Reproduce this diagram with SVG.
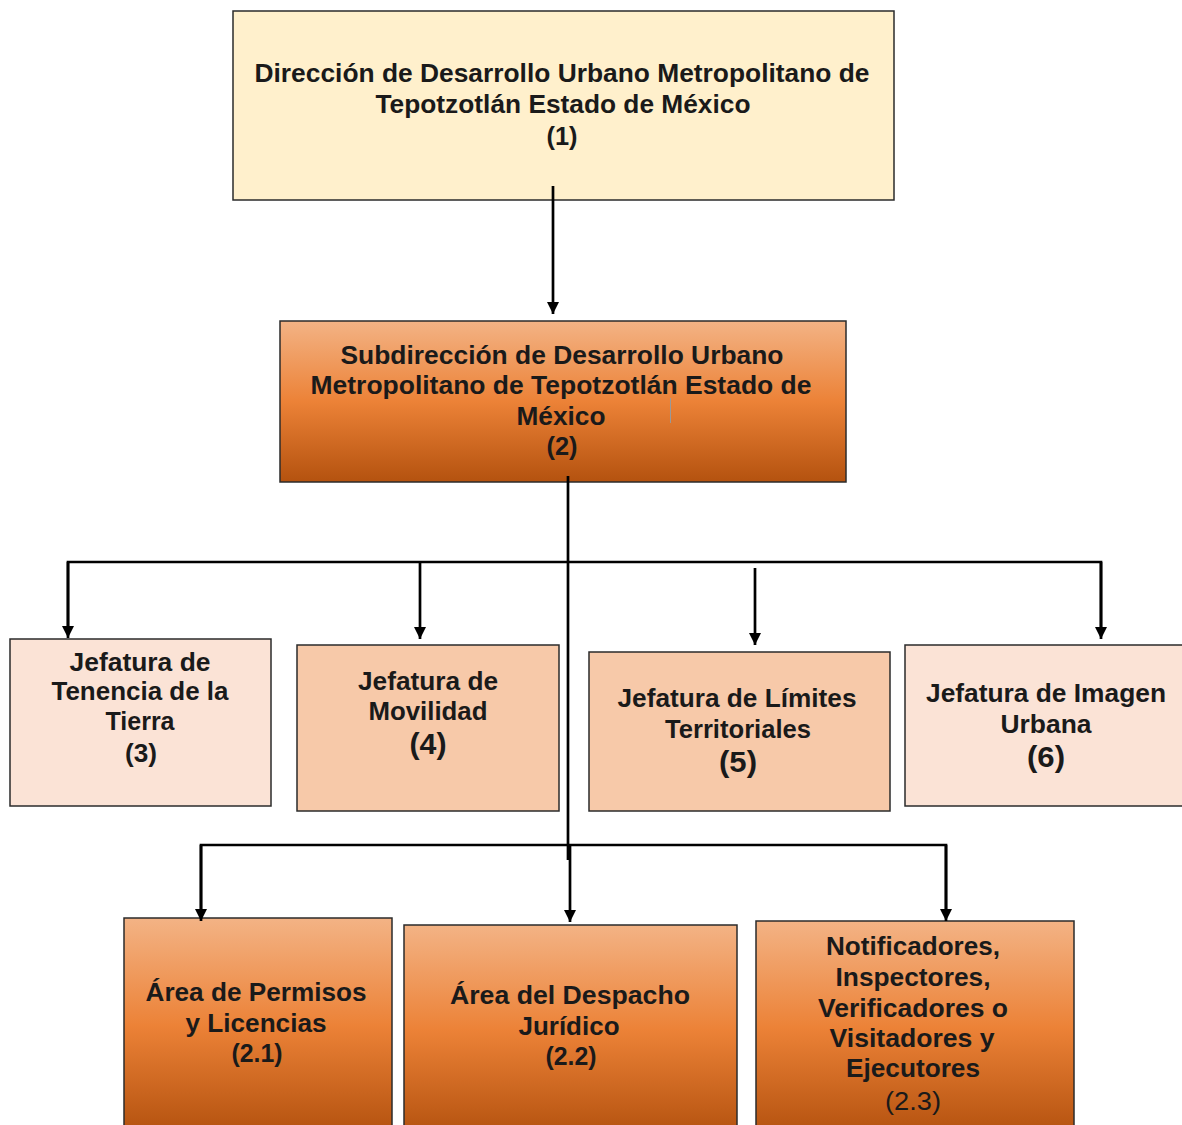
<svg xmlns="http://www.w3.org/2000/svg" width="1182" height="1125" viewBox="0 0 1182 1125">
<defs>
<linearGradient id="og" x1="0" y1="0" x2="0" y2="1">
<stop offset="0" stop-color="#F3B385"/>
<stop offset="0.5" stop-color="#EC8237"/>
<stop offset="1" stop-color="#B4520F"/>
</linearGradient>
<marker id="ah" viewBox="0 0 10 10" refX="10" refY="5" markerWidth="4.6" markerHeight="4.6" orient="auto" markerUnits="strokeWidth">
<path d="M0,0 L10,5 L0,10 z" fill="#000"/>
</marker>
</defs>
<style>
.box{stroke:#2b2b2b;stroke-width:1.5}
.t{font-family:"Liberation Sans",Arial,sans-serif;font-weight:bold;font-size:25px;fill:#1a1a1a;text-anchor:middle}
.n{font-family:"Liberation Sans",Arial,sans-serif;font-weight:bold;font-size:29px;fill:#1a1a1a;text-anchor:middle}
.r{font-family:"Liberation Sans",Arial,sans-serif;font-weight:normal;font-size:26px;fill:#1a1a1a;text-anchor:middle}
.c{stroke:#000;stroke-width:2.7;fill:none}
</style>
<rect width="1182" height="1125" fill="#fff"/>
<g id="n1">
<rect class="box" x="233" y="11" width="661" height="189" fill="#FFF0CC"/>
<text class="t" x="562" y="81.5" textLength="615" lengthAdjust="spacingAndGlyphs">Dirección de Desarrollo Urbano Metropolitano de</text>
<text class="t" x="563" y="112.5" textLength="375" lengthAdjust="spacingAndGlyphs">Tepotzotlán Estado de México</text>
<text class="t" x="562" y="144.5" textLength="31" lengthAdjust="spacingAndGlyphs">(1)</text>
</g>
<g id="n2">
<rect class="box" x="280" y="321" width="566" height="161" fill="url(#og)"/>
<text class="t" x="562" y="363.5" textLength="443" lengthAdjust="spacingAndGlyphs">Subdirección de Desarrollo Urbano</text>
<text class="t" x="561" y="393.5" textLength="501" lengthAdjust="spacingAndGlyphs">Metropolitano de Tepotzotlán Estado de</text>
<text class="t" x="561" y="424.5" textLength="89" lengthAdjust="spacingAndGlyphs">México</text>
<text class="t" x="562" y="454.5" textLength="31" lengthAdjust="spacingAndGlyphs">(2)</text>
<line x1="670.5" y1="398" x2="670.5" y2="423" stroke="#999" stroke-width="1"/>
</g>
<g id="n3">
<rect class="box" x="10" y="639" width="261" height="167" fill="#FBE3D6"/>
<text class="t" x="140" y="671" textLength="141" lengthAdjust="spacingAndGlyphs">Jefatura de</text>
<text class="t" x="140" y="700" textLength="177" lengthAdjust="spacingAndGlyphs">Tenencia de la</text>
<text class="t" x="140" y="729.5" textLength="69" lengthAdjust="spacingAndGlyphs">Tierra</text>
<text class="t" x="141" y="762" textLength="32" lengthAdjust="spacingAndGlyphs">(3)</text>
</g>
<g id="n4">
<rect class="box" x="297" y="645" width="262" height="166" fill="#F7C9A9"/>
<text class="t" x="428" y="689.5" textLength="140" lengthAdjust="spacingAndGlyphs">Jefatura de</text>
<text class="t" x="428" y="719.5" textLength="119" lengthAdjust="spacingAndGlyphs">Movilidad</text>
<text class="n" x="428" y="754" textLength="37" lengthAdjust="spacingAndGlyphs">(4)</text>
</g>
<g id="n5">
<rect class="box" x="589" y="652" width="301" height="159" fill="#F7C9A9"/>
<text class="t" x="737" y="706.5" textLength="239" lengthAdjust="spacingAndGlyphs">Jefatura de Límites</text>
<text class="t" x="738" y="737.5" textLength="146" lengthAdjust="spacingAndGlyphs">Territoriales</text>
<text class="n" x="738" y="772" textLength="38" lengthAdjust="spacingAndGlyphs">(5)</text>
</g>
<g id="n6">
<rect class="box" x="905" y="645" width="290" height="161" fill="#FBE3D6"/>
<text class="t" x="1046" y="701.5" textLength="240" lengthAdjust="spacingAndGlyphs">Jefatura de Imagen</text>
<text class="t" x="1046" y="732.5" textLength="91" lengthAdjust="spacingAndGlyphs">Urbana</text>
<text class="n" x="1046" y="767" textLength="38" lengthAdjust="spacingAndGlyphs">(6)</text>
</g>
<g id="n21">
<rect class="box" x="124" y="918" width="268" height="215" fill="url(#og)"/>
<text class="t" x="256" y="1000.5" textLength="221" lengthAdjust="spacingAndGlyphs">Área de Permisos</text>
<text class="t" x="256" y="1031.5" textLength="141" lengthAdjust="spacingAndGlyphs">y Licencias</text>
<text class="t" x="257" y="1061.5" textLength="51" lengthAdjust="spacingAndGlyphs">(2.1)</text>
</g>
<g id="n22">
<rect class="box" x="404" y="925" width="333" height="210" fill="url(#og)"/>
<text class="t" x="570" y="1003.5" textLength="240" lengthAdjust="spacingAndGlyphs">Área del Despacho</text>
<text class="t" x="569" y="1034.5" textLength="101" lengthAdjust="spacingAndGlyphs">Jurídico</text>
<text class="t" x="571" y="1064.5" textLength="51" lengthAdjust="spacingAndGlyphs">(2.2)</text>
</g>
<g id="n23">
<rect class="box" x="756" y="921" width="318" height="213" fill="url(#og)"/>
<text class="t" x="913" y="955" textLength="174" lengthAdjust="spacingAndGlyphs">Notificadores,</text>
<text class="t" x="913" y="985.5" textLength="155" lengthAdjust="spacingAndGlyphs">Inspectores,</text>
<text class="t" x="913" y="1016.5" textLength="190" lengthAdjust="spacingAndGlyphs">Verificadores o</text>
<text class="t" x="912" y="1046.5" textLength="165" lengthAdjust="spacingAndGlyphs">Visitadores y</text>
<text class="t" x="913" y="1076.5" textLength="134" lengthAdjust="spacingAndGlyphs">Ejecutores</text>
<text class="r" x="913" y="1110" textLength="56" lengthAdjust="spacingAndGlyphs">(2.3)</text>
</g>
<g id="connectors">
<line class="c" x1="553" y1="186" x2="553" y2="314" marker-end="url(#ah)"/>
<line class="c" x1="568" y1="476" x2="568" y2="860"/>
<polyline class="c" points="68,630 68,562 1101,562 1101,630"/>
<line class="c" x1="68" y1="562" x2="68" y2="638" marker-end="url(#ah)"/>
<line class="c" x1="420" y1="562" x2="420" y2="639" marker-end="url(#ah)"/>
<line class="c" x1="755" y1="568" x2="755" y2="645" marker-end="url(#ah)"/>
<line class="c" x1="1101" y1="562" x2="1101" y2="639" marker-end="url(#ah)"/>
<polyline class="c" points="201,910 201,845 946,845 946,910"/>
<line class="c" x1="201" y1="845" x2="201" y2="921" marker-end="url(#ah)"/>
<line class="c" x1="946" y1="845" x2="946" y2="921" marker-end="url(#ah)"/>
<line class="c" x1="570" y1="845" x2="570" y2="922" marker-end="url(#ah)"/>
</g>
</svg>
